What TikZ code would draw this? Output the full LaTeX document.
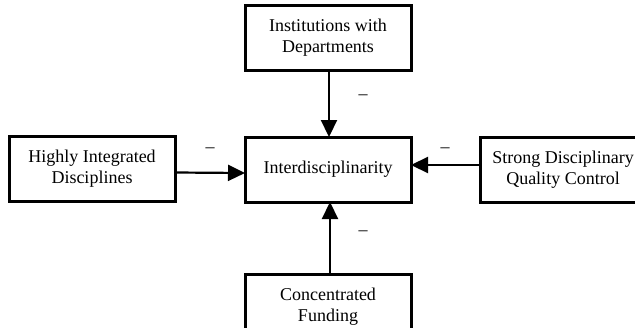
\documentclass[tikz,border=0pt]{standalone}
\usepackage{fontspec}
\setmainfont{Liberation Serif}
\usetikzlibrary{arrows.meta}
\begin{document}
\begin{tikzpicture}[x=1pt,y=-1pt,
  box/.style={draw=black,line width=3pt,minimum width=166pt,minimum height=65pt,
    inner sep=0pt,outer sep=0pt,align=center,font=\fontsize{18}{21}\selectfont},
  arr/.style={line width=2.2pt,-{Triangle[length=17pt,width=16pt]}},
  sign/.style={font=\fontsize{18}{21}\selectfont,inner sep=0pt}]
\useasboundingbox (0,0) rectangle (635,327);
\fill[white] (0,0) rectangle (635,327);
\node[box] (top) at (328,38) {Institutions with\\Departments};
\node[box] (mid) at (328,169.5) {Interdisciplinarity};
\node[box] (left) at (92,169) {Highly Integrated\\Disciplines};
\node[box] (right) at (563,169.5) {Strong Disciplinary\\Quality Control};
\node[box] (bot) at (328,306.5) {Concentrated\\Funding};
\draw[arr] ([xshift=1pt]top.south) -- ([xshift=1pt]mid.north);
\draw[arr] ([xshift=2pt]bot.north) -- ([xshift=2pt]mid.south);
\draw[arr] ([yshift=-3.5pt]left.east) -- ([yshift=-3.5pt]mid.west);
\draw[arr] ([yshift=4.5pt]right.west) -- ([yshift=4.5pt]mid.east);
\node[sign] (s1) at (363,97) {–};
\node[sign] (s2) at (363,233) {–};
\node[sign] (s3) at (210,150) {–};
\node[sign] (s4) at (445,150) {–};
\end{tikzpicture}
\end{document}
